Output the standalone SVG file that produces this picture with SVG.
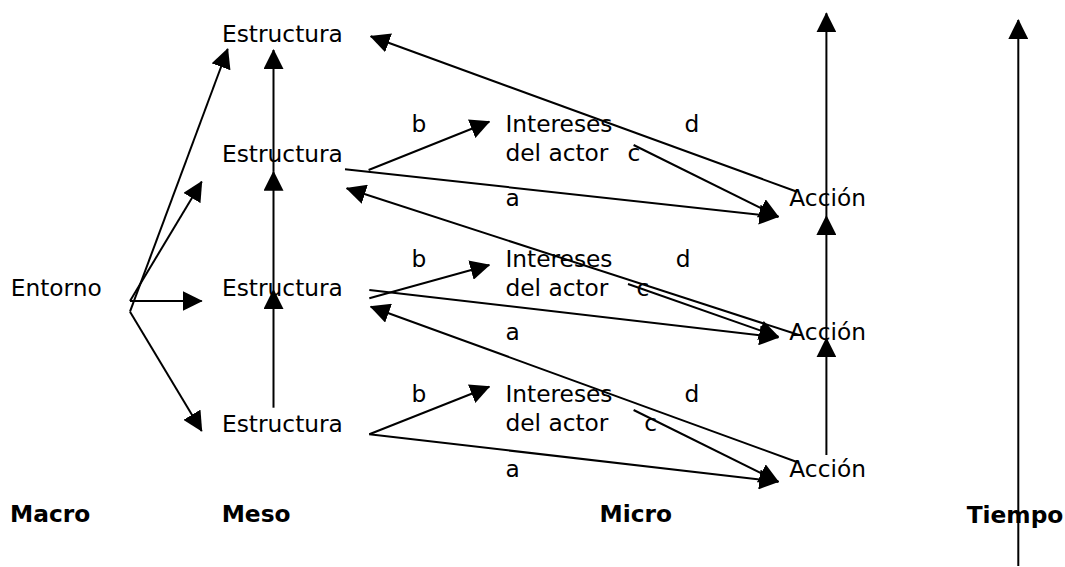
<svg xmlns="http://www.w3.org/2000/svg" width="1065" height="567" viewBox="0 0 1065 567">
<style>
text { font-family: "DejaVu Sans", Verdana, sans-serif; font-size: 23.3px; fill: #000; }
text.b { font-weight: bold; }
.c line { stroke: #000; stroke-width: 2; fill: none; }
.c line.a { marker-end: url(#ah); }
</style>
<defs>
<marker id="ah" markerUnits="userSpaceOnUse" markerWidth="20" markerHeight="20" viewBox="0 0 20 20" refX="19" refY="10" orient="auto">
<path d="M0,0 L20,10 L0,20 z" fill="#000"/>
</marker>
</defs>
<rect width="1065" height="567" fill="#fff"/>
<g id="connectors" class="c">
<line class="a" x1="130" y1="311.7" x2="227.7" y2="49"/>
<line class="a" x1="130" y1="301" x2="201.7" y2="181.7"/>
<line class="a" x1="130" y1="301" x2="201.7" y2="301"/>
<line class="a" x1="130" y1="311.7" x2="201.7" y2="431"/>
<line class="a" x1="273.5" y1="407.7" x2="273.5" y2="290"/>
<line class="a" x1="273.5" y1="290" x2="273.5" y2="171.7"/>
<line class="a" x1="273.5" y1="171.7" x2="273.5" y2="50"/>
<line class="a" x1="368.6" y1="170" x2="489.3" y2="121.7"/>
<line class="a" x1="345" y1="169.3" x2="778.3" y2="216.7"/>
<line class="a" x1="633.6" y1="145" x2="778.3" y2="216.7"/>
<line class="a" x1="797" y1="191.7" x2="370.7" y2="36.3"/>
<line class="a" x1="799" y1="335" x2="346.7" y2="188.3"/>
<line class="a" x1="369.3" y1="298.3" x2="489.3" y2="265"/>
<line class="a" x1="369.3" y1="290" x2="778.3" y2="337.5"/>
<line class="a" x1="628" y1="284" x2="778.3" y2="336.7"/>
<line class="a" x1="799" y1="462.7" x2="370.7" y2="306.7"/>
<line class="a" x1="369.3" y1="434.3" x2="489.3" y2="386.7"/>
<line class="a" x1="369.3" y1="434.3" x2="778.3" y2="481.7"/>
<line class="a" x1="633.6" y1="410" x2="778.3" y2="481.7"/>
<line class="a" x1="826.4" y1="216" x2="826.4" y2="13.3"/>
<line class="a" x1="826.4" y1="338.3" x2="826.4" y2="216"/>
<line class="a" x1="826.4" y1="455" x2="826.4" y2="338.3"/>
<line class="a" x1="1018.3" y1="566" x2="1018.3" y2="20"/>
</g>
<g id="entorno"><text x="10.7" y="295.7">Entorno</text></g>
<g id="estructura1"><text x="222" y="42.3">Estructura</text></g>
<g id="estructura2"><text x="222" y="161.7">Estructura</text></g>
<g id="estructura3"><text x="222" y="295.7">Estructura</text></g>
<g id="estructura4"><text x="222" y="431.7">Estructura</text></g>
<g id="intereses1"><text x="505.4" y="131.7">Intereses</text><text x="505.4" y="161">del actor</text></g>
<g id="intereses2"><text x="505.4" y="266.7">Intereses</text><text x="505.4" y="295.7">del actor</text></g>
<g id="intereses3"><text x="505.4" y="401.7">Intereses</text><text x="505.4" y="431">del actor</text></g>
<g id="accion1"><text x="789.3" y="205.7">Acción</text></g>
<g id="accion2"><text x="789.3" y="340">Acción</text></g>
<g id="accion3"><text x="789.3" y="476.7">Acción</text></g>
<g id="labels">
<text x="411.4" y="131.7">b</text>
<text x="684.6" y="131.7">d</text>
<text x="627.5" y="161">c</text>
<text x="505.4" y="205.7">a</text>
<text x="411.4" y="266.7">b</text>
<text x="675.7" y="266.7">d</text>
<text x="636.4" y="295.7">c</text>
<text x="505.4" y="340">a</text>
<text x="411.4" y="401.7">b</text>
<text x="684.6" y="401.7">d</text>
<text x="644.3" y="431">c</text>
<text x="505.4" y="476.7">a</text>
</g>
<g id="levels">
<text class="b" x="10" y="522.3">Macro</text>
<text class="b" x="221.7" y="522">Meso</text>
<text class="b" x="599.6" y="521.7">Micro</text>
<text class="b" x="966.7" y="522.5">Tiempo</text>
</g>
</svg>
